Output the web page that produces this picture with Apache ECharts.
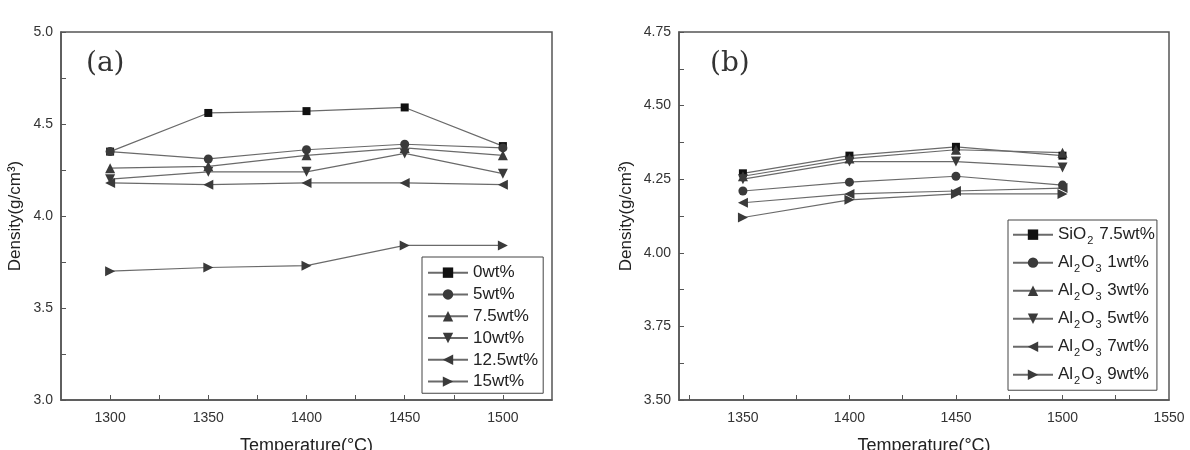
<!DOCTYPE html>
<html>
<head>
    <title>Density vs Temperature</title>
    <script src="https://cdn.jsdelivr.net/npm/echarts@6/dist/echarts.min.js"></script>
</head>
<body style="margin:0">
    <div id="chart" style="width: 1190px; height: 450px;"></div>
    <script>
        // panel (a): density vs sintering temperature for each additive content
        var tempsA = [1300, 1350, 1400, 1450, 1500];
        var namesA = ['0wt%', '5wt%', '7.5wt%', '10wt%', '12.5wt%', '15wt%'];
        var wt0 = [4.35, 4.56, 4.57, 4.59, 4.38];
        var wt5 = [4.35, 4.31, 4.36, 4.39, 4.37];
        var wt75 = [4.26, 4.27, 4.33, 4.37, 4.33];
        var wt10 = [4.20, 4.24, 4.24, 4.34, 4.23];
        var wt125 = [4.18, 4.17, 4.18, 4.18, 4.17];
        var wt15 = [3.70, 3.72, 3.73, 3.84, 3.84];

        // panel (b)
        var tempsB = [1350, 1400, 1450, 1500];
        var namesB = ['SiO2 7.5wt%', 'Al2O3 1wt%', 'Al2O3 3wt%', 'Al2O3 5wt%', 'Al2O3 7wt%', 'Al2O3 9wt%'];
        var sio2 = [4.27, 4.33, 4.36, 4.33];
        var al1 = [4.21, 4.24, 4.26, 4.23];
        var al3 = [4.26, 4.32, 4.35, 4.34];
        var al5 = [4.25, 4.31, 4.31, 4.29];
        var al7 = [4.17, 4.20, 4.21, 4.22];
        var al9 = [4.12, 4.18, 4.20, 4.20];

        var labelsA = [1300, 1350, 1400, 1450, 1500];
        var ticksA = [1300, 1325, 1350, 1375, 1400, 1425, 1450, 1475, 1500];
        var labelsB = [1350, 1400, 1450, 1500, 1550];
        var ticksB = [1325, 1350, 1375, 1400, 1425, 1450, 1475, 1500, 1525];

        var symbols = ['rect', 'circle', 'triangle', 'triangle', 'triangle', 'triangle'];
        var rotates = [0, 0, 0, 180, 90, -90];
        var sizes = [8, 9, 10, 10, 10, 10];

        var font = 'Liberation Sans, Arial, sans-serif';

        function pairs(xs, ys) {
            return xs.map(function (x, i) { return [x, ys[i]]; });
        }

        function makeSeries(names, xs, valueSets, axisIdx) {
            return names.map(function (n, i) {
                return {
                    name: n,
                    type: 'line',
                    xAxisIndex: axisIdx,
                    yAxisIndex: axisIdx,
                    data: pairs(xs, valueSets[i]),
                    symbol: symbols[i],
                    symbolRotate: rotates[i],
                    symbolSize: sizes[i],
                    itemStyle: { color: i === 0 ? '#111' : '#3a3a3a' },
                    lineStyle: { color: '#6a6a6a', width: 1.2 },
                    emphasis: { disabled: true },
                    animation: false
                };
            });
        }

        function xAxisCfg(idx, min, max, labels, ticks) {
            return {
                gridIndex: idx,
                type: 'value',
                min: min,
                max: max,
                name: 'Temperature(\u00b0C)',
                nameLocation: 'middle',
                nameGap: 31,
                nameMoveOverlap: false,
                nameTextStyle: { fontFamily: font, fontSize: 18, color: '#222' },
                axisLine: { lineStyle: { color: '#555', width: 1.5 } },
                axisTick: { inside: true, length: 5, customValues: ticks, lineStyle: { color: '#555' } },
                axisLabel: {
                    customValues: labels, fontFamily: font, fontSize: 14, color: '#333', margin: 6,
                    formatter: function (v) { return String(v); }
                },
                splitLine: { show: false }
            };
        }

        function yAxisCfg(idx, min, max, step, digits, gap) {
            return {
                gridIndex: idx,
                type: 'value',
                min: min,
                max: max,
                interval: step,
                name: 'Density(g/cm\u00b3)',
                nameLocation: 'middle',
                nameGap: gap,
                nameMoveOverlap: false,
                nameTextStyle: { fontFamily: font, fontSize: 17, color: '#222' },
                axisLine: { lineStyle: { color: '#555', width: 1.5 } },
                axisTick: { inside: true, length: 5, lineStyle: { color: '#555' } },
                axisLabel: {
                    fontFamily: font, fontSize: 14, color: '#333', margin: 8,
                    formatter: function (v) {
                        var k = v / (step * 2);
                        return Math.abs(k - Math.round(k)) < 1e-6 ? v.toFixed(digits) : '';
                    }
                },
                splitLine: { show: false }
            };
        }

        var chart = echarts.init(document.querySelector('#chart'));

        var option = {
            backgroundColor: '#fff',
            animation: false,
            title: [
                { text: '(a)', left: 86, top: 36, padding: 0, textStyle: { fontFamily: 'DejaVu Serif', fontSize: 28, fontWeight: 'normal', color: '#333' } },
                { text: '(b)', left: 710, top: 36, padding: 0, textStyle: { fontFamily: 'DejaVu Serif', fontSize: 28, fontWeight: 'normal', color: '#333' } }
            ],
            grid: [
                { left: 61, top: 32, width: 491, height: 368, outerBoundsMode: 'none', show: true, borderColor: '#555', borderWidth: 1.5 },
                { left: 679, top: 32, width: 490, height: 368, outerBoundsMode: 'none', show: true, borderColor: '#555', borderWidth: 1.5 }
            ],
            xAxis: [
                xAxisCfg(0, 1275, 1525, labelsA, ticksA),
                xAxisCfg(1, 1320, 1550, labelsB, ticksB)
            ],
            yAxis: [
                yAxisCfg(0, 3.0, 5.0, 0.25, 1, 31),
                yAxisCfg(1, 3.5, 4.75, 0.125, 2, 38)
            ],
            legend: [
                {
                    data: namesA,
                    orient: 'vertical',
                    left: 422,
                    top: 257,
                    padding: [1, 5, -3, 5],
                    itemGap: -7.5,
                    itemWidth: 40,
                    itemHeight: 13,
                    backgroundColor: '#fff',
                    borderColor: '#444',
                    borderWidth: 1,
                    borderRadius: 0,
                    textStyle: { fontFamily: font, fontSize: 17, color: '#222' }
                },
                {
                    data: namesB,
                    orient: 'vertical',
                    left: 1008,
                    top: 220,
                    padding: [0, 2, 0, 4],
                    itemGap: -2.1,
                    itemWidth: 40,
                    itemHeight: 13,
                    backgroundColor: '#fff',
                    borderColor: '#444',
                    borderWidth: 1,
                    borderRadius: 0,
                    formatter: function (name) {
                        return name.replace(/([A-Za-z])(\d)/g, '$1{s|$2}');
                    },
                    textStyle: {
                        fontFamily: font, fontSize: 17, color: '#222',
                        rich: { s: { fontFamily: font, fontSize: 11, color: '#222', verticalAlign: 'bottom', padding: [12, 1, 0, 1] } }
                    }
                }
            ],
            series: makeSeries(namesA, tempsA, [wt0, wt5, wt75, wt10, wt125, wt15], 0)
                .concat(makeSeries(namesB, tempsB, [sio2, al1, al3, al5, al7, al9], 1))
        };
        chart.setOption(option);
    </script>
</body>
</html>
